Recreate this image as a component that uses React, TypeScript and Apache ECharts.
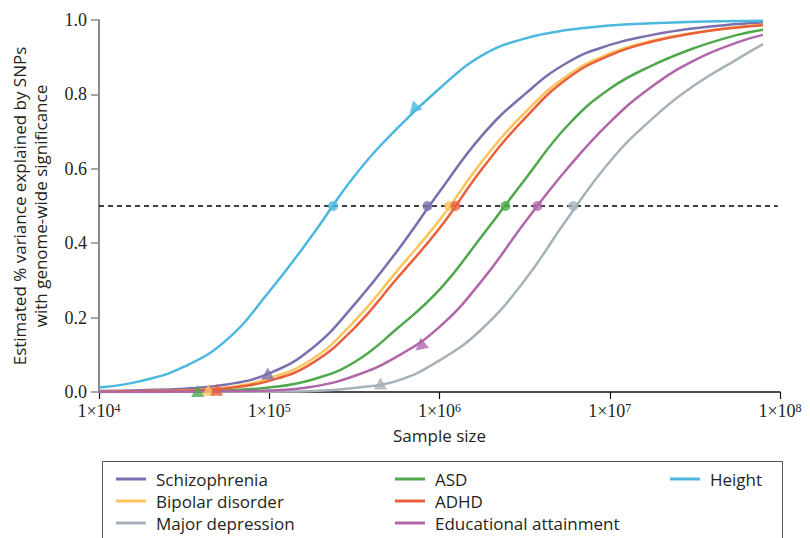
import React, { useEffect, useRef } from "react";
import * as echarts from "echarts";

// ---------- data (quarter-decade sample sizes) ----------
const sampleSizes = [
  1e4, 1.78e4, 3.16e4, 5.62e4, 1e5, 1.78e5, 3.16e5, 5.62e5, 1e6, 1.78e6, 3.16e6, 5.62e6, 1e7, 1.78e7, 3.16e7,
  5.62e7, 7.94e7,
];

const schizophrenia = [0.003, 0.005, 0.009, 0.02, 0.05, 0.117, 0.235, 0.378, 0.538, 0.69, 0.8, 0.885, 0.933, 0.96, 0.978, 0.989, 0.993];
const bipolarDisorder = [0.001, 0.002, 0.004, 0.012, 0.037, 0.088, 0.19, 0.325, 0.462, 0.62, 0.75, 0.85, 0.91, 0.944, 0.966, 0.981, 0.987];
const majorDepression = [0.0, 0.0, 0.0, 0.0, 0.001, 0.003, 0.011, 0.03, 0.085, 0.17, 0.3, 0.465, 0.619, 0.735, 0.825, 0.895, 0.935];
const asd = [0.0, 0.001, 0.002, 0.005, 0.012, 0.033, 0.08, 0.17, 0.275, 0.42, 0.57, 0.715, 0.815, 0.878, 0.925, 0.96, 0.974];
const adhd = [0.001, 0.002, 0.004, 0.01, 0.03, 0.077, 0.172, 0.305, 0.44, 0.6, 0.735, 0.842, 0.905, 0.942, 0.965, 0.98, 0.986];
const educationalAttainment = [0.0, 0.0, 0.001, 0.002, 0.004, 0.014, 0.043, 0.095, 0.175, 0.3, 0.455, 0.6, 0.725, 0.822, 0.892, 0.94, 0.96];
const height = [0.012, 0.03, 0.068, 0.14, 0.27, 0.42, 0.58, 0.708, 0.816, 0.905, 0.95, 0.973, 0.985, 0.991, 0.995, 0.997, 0.998];

const traitNames = [
  "Schizophrenia",
  "Bipolar disorder",
  "Major depression",
  "ASD",
  "ADHD",
  "Educational attainment",
  "Height",
];
const traitValues = [schizophrenia, bipolarDisorder, majorDepression, asd, adhd, educationalAttainment, height];

// sample size at which 50% is reached (circles)
const halfwayLevel = 0.5;
const halfwayN = [8.5e5, 1.14e6, 6.1e6, 2.44e6, 1.24e6, 3.76e6, 2.37e5];
// current sample size (triangles)
const currentN = [9.8e4, 4.4e4, 4.5e5, 3.8e4, 4.9e4, 7.7e5, 7.06e5];
const currentValue = [0.05, 0.006, 0.023, 0.003, 0.006, 0.122, 0.76];

const thresholdSpan = [1e4, 9.7e7];

const xTickExponents = [4, 5, 6, 7, 8];
const yTicks = [0, 0.2, 0.4, 0.6, 0.8, 1.0];

// ---------- styles ----------
const colors = ["#7b6fae", "#fdc45c", "#a6b2ba", "#4fa84b", "#e8603c", "#b066a9", "#4db8de"];
const triangleRotate = [0, 0, 0, 0, 0, 130, 138];

const SANS = "Open Sans";
const SERIF = "Liberation Serif";
const TEXT = "#231f20";

export default function App() {
  const ref = useRef<HTMLDivElement | null>(null);

  useEffect(() => {
    document.body.style.margin = "0";
    if (!ref.current) return;
    const chart = echarts.init(ref.current, undefined, { renderer: "svg" });

    const lineSeries = traitNames.map((name, i) => ({
      type: "line",
      name,
      data: sampleSizes.map((n, j) => [n, traitValues[i][j]]),
      smooth: 0.45,
      symbol: "none",
      color: colors[i],
      lineStyle: { width: 2.5, color: colors[i] },
      z: 3,
      silent: true,
    }));

    const circleData = traitNames.map((_, i) => ({
      value: [halfwayN[i], halfwayLevel],
      symbol: "circle",
      symbolSize: 10,
      itemStyle: { color: colors[i] },
    }));
    const triangleData = traitNames.map((_, i) => ({
      value: [currentN[i], currentValue[i]],
      symbol: "triangle",
      symbolSize: [13, 12],
      symbolRotate: triangleRotate[i],
      itemStyle: { color: colors[i] },
    }));

    const legendBase = {
      orient: "vertical",
      top: 468,
      padding: 0,
      itemGap: 0,
      itemWidth: 30,
      itemHeight: 3,
      icon: "rect",
      selectedMode: false,
      textStyle: {
        fontFamily: SANS,
        fontSize: 17,
        color: TEXT,
        lineHeight: 22,
        padding: [0, 0, 0, 5],
      },
    };

    chart.setOption({
      animation: false,
      backgroundColor: "#ffffff",
      grid: {
        left: 99,
        right: 30,
        top: 20,
        bottom: 146,
        containLabel: false,
        outerBoundsMode: "none",
      },
      xAxis: {
        type: "log",
        logBase: 10,
        min: Math.pow(10, xTickExponents[0]),
        max: Math.pow(10, xTickExponents[xTickExponents.length - 1]),
        interval: 1,
        name: "Sample size",
        nameLocation: "middle",
        nameGap: 33,
        nameTextStyle: { fontFamily: SANS, fontSize: 17, color: TEXT },
        axisLine: { show: true, lineStyle: { color: "#111", width: 1.5 } },
        axisTick: { show: true, inside: false, length: 7, lineStyle: { color: "#111", width: 1.2 } },
        splitLine: { show: false },
        minorTick: { show: false },
        axisLabel: {
          margin: 10,
          fontFamily: SERIF,
          fontSize: 18,
          color: TEXT,
          formatter: (v: number) => `1×10{sup|${Math.round(Math.log10(v))}}`,
          rich: {
            sup: { fontFamily: SERIF, fontSize: 12, color: TEXT, verticalAlign: "top", lineHeight: 12, padding: [0, 0, 8, 0] },
          },
        },
      },
      yAxis: {
        type: "value",
        min: yTicks[0],
        max: yTicks[yTicks.length - 1],
        interval: 0.2,
        name: "Estimated % variance explained by SNPs\nwith genome-wide significance",
        nameLocation: "middle",
        nameGap: 48,
        nameRotate: 90,
        nameTextStyle: { fontFamily: SANS, fontSize: 17, color: TEXT, lineHeight: 21 },
        axisLine: { show: true, lineStyle: { color: "#8a8a8a", width: 2 } },
        axisTick: { show: true, inside: false, length: 8, lineStyle: { color: "#8a8a8a", width: 1.5 } },
        splitLine: { show: false },
        axisLabel: {
          margin: 12,
          fontFamily: SERIF,
          fontSize: 18,
          color: TEXT,
          formatter: (v: number) => v.toFixed(1),
        },
      },
      legend: [
        { ...legendBase, left: 116, data: traitNames.slice(0, 3) },
        { ...legendBase, left: 395, data: traitNames.slice(3, 6) },
        { ...legendBase, left: 670, data: traitNames.slice(6, 7) },
      ],
      graphic: [
        {
          type: "rect",
          left: 100,
          top: 459,
          shape: { width: 680, height: 120 },
          style: { fill: "none", stroke: "#555", lineWidth: 1 },
          silent: true,
        },
      ],
      series: [
        {
          type: "line",
          name: "threshold",
          data: thresholdSpan.map((n) => [n, halfwayLevel]),
          symbol: "none",
          lineStyle: { color: "#000", width: 1.3, type: [5, 4] },
          z: 2,
          silent: true,
        },
        ...lineSeries,
        {
          type: "scatter",
          name: "halfway",
          data: circleData,
          z: 5,
          silent: true,
        },
        {
          type: "scatter",
          name: "current",
          data: triangleData,
          z: 5,
          silent: true,
        },
      ],
    });

    return () => chart.dispose();
  }, []);

  return (
    <div
      ref={ref}
      style={{ position: "fixed", left: 0, top: 0, width: 810, height: 538, background: "#fff" }}
    />
  );
}
